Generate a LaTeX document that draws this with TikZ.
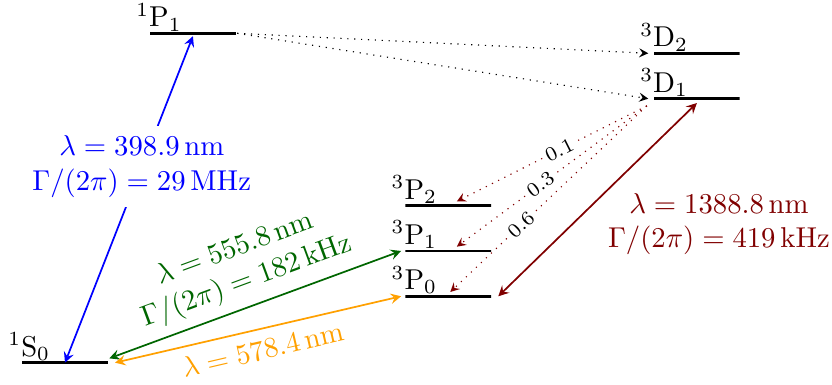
\documentclass[tikz,border=0pt]{standalone}
\usetikzlibrary{arrows}

\definecolor{yelloworange}{RGB}{255,160,0}

\begin{document}
\begin{tikzpicture}[>=stealth,
  level/.style={draw, line width=1pt, minimum width=1.05cm, minimum height=0pt, inner sep=0pt},
  lvlname/.style={anchor=south west, inner sep=0pt, yshift=0.6pt},
  trans/.style={semithick, <->},
  decay/.style={dotted, ->}]
\useasboundingbox (0,0) rectangle (10.19,4.715);

% levels
\node[level] (sS0) at (0.796,0.273) {};
\node[level] (sP1) at (2.363,4.307) {};
\node[level] (tD2) at (8.535,4.062) {};
\node[level] (tD1) at (8.535,3.506) {};
\node[level] (tP2) at (5.490,2.196) {};
\node[level] (tP1) at (5.490,1.641) {};
\node[level] (tP0) at (5.490,1.086) {};

\node[lvlname] (sS0name) at (sS0.west) {\llap{$^1$}S$_0$};
\node[lvlname] (sP1name) at (sP1.west) {\llap{$^1$}P$_1$};
\node[lvlname] (tD2name) at (tD2.west) {\llap{$^3$}D$_2$};
\node[lvlname] (tD1name) at (tD1.west) {\llap{$^3$}D$_1$};
\node[lvlname] (tP2name) at (tP2.west) {\llap{$^3$}P$_2$};
\node[lvlname] (tP1name) at (tP1.west) {\llap{$^3$}P$_1$};
\node[lvlname] (tP0name) at (tP0.west) {\llap{$^3$}P$_0$};

% lasers
\draw[trans, blue] (sS0.center) -- node[pos=0.6, fill=white, align=center]
  {$\lambda = 398.9\,\mathrm{nm}$\\ $\Gamma/(2\pi) = 29\,\mathrm{MHz}$} ([yshift=-1pt]sP1.center);
\draw[trans, green!40!black] ([yshift=1.5pt]sS0.east) -- node[above, sloped, align=center]
  {$\lambda = 555.8\,\mathrm{nm}$\\ $\Gamma/(2\pi) = 182\,\mathrm{kHz}$} ([xshift=-1pt]tP1.west);
\draw[trans, yelloworange] ([xshift=2pt]sS0.east) -- node[below, sloped]
  {$\lambda = 578.4\,\mathrm{nm}$} ([xshift=-1pt]tP0.west);
\draw[trans, red!50!black] ([xshift=2pt]tP0.east) -- node[right, yshift=-8.5pt, align=center]
  {$\lambda = 1388.8\,\mathrm{nm}$\\ $\Gamma/(2\pi) = 419\,\mathrm{kHz}$} ([yshift=-1.5pt]tD1.center);

% decays
\draw[decay] (sP1.east) -- ([xshift=-1.5pt]tD2.west);
\draw[decay] (sP1.east) -- ([xshift=-1.5pt]tD1.west);
\foreach \lv/\br/\p/\dx in {tP2/0.1/0.46/3pt, tP1/0.3/0.56/3pt, tP0/0.6/0.64/0.7pt}
  \draw[decay, red!50!black] ([shift={(-2pt,-2.5pt)}]tD1.west) -- node[pos=\p, sloped, fill=white, inner sep=0.6pt, font=\scriptsize, text=black] {\br} ([shift={(\dx,1.5pt)}]\lv.center);
\end{tikzpicture}
\end{document}
